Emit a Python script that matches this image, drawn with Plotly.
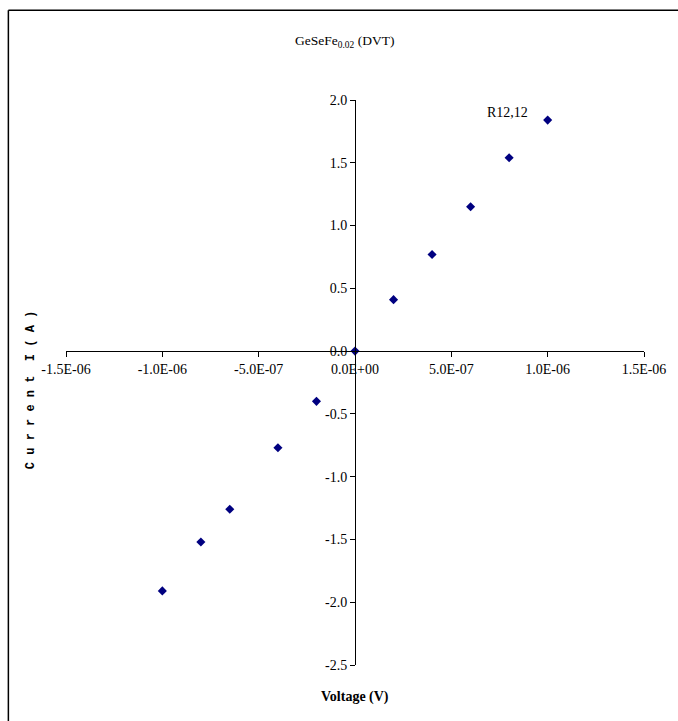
import plotly.graph_objects as go

voltage = [-1.0e-6, -8.0e-7, -6.5e-7, -4.0e-7, -2.0e-7, 0.0, 2.0e-7, 4.0e-7, 6.0e-7, 8.0e-7, 1.0e-6]
current = [-1.91, -1.52, -1.26, -0.77, -0.40, 0.0, 0.41, 0.77, 1.15, 1.54, 1.84]

x_tickvals = [-1.5e-6, -1.0e-6, -5.0e-7, 0.0, 5.0e-7, 1.0e-6, 1.5e-6]
x_ticktext = ["-1.5E-06", "-1.0E-06", "-5.0E-07", "0.0E+00", "5.0E-07", "1.0E-06", "1.5E-06"]
y_tickvals = [-2.5, -2.0, -1.5, -1.0, -0.5, 0.0, 0.5, 1.0, 1.5, 2.0]
y_ticktext = ["-2.5", "-2.0", "-1.5", "-1.0", "-0.5", "0.0", "0.5", "1.0", "1.5", "2.0"]

serif = "Liberation Serif"

fig = go.Figure()
fig.add_trace(go.Scatter(
    x=voltage, y=current, mode="markers",
    marker=dict(symbol="diamond", size=7, color="#000080"),
    showlegend=False, cliponaxis=False,
))

x_range = [-1.5e-6, 1.5e-6]
y_range = [-2.5, 2.0]

fig.update_layout(
    width=678, height=721,
    margin=dict(l=66, r=30, t=100, b=56),
    paper_bgcolor="white", plot_bgcolor="white",
    font=dict(family=serif, size=13, color="black"),
    xaxis=dict(
        range=x_range, tickvals=x_tickvals, ticktext=x_ticktext,
        showgrid=False, zeroline=False, showline=True, linecolor="black", linewidth=1,
        ticks="outside", ticklen=5, tickcolor="black",
        anchor="free", position=(0 - y_range[0]) / (y_range[1] - y_range[0]),
        tickfont=dict(family=serif, size=14),
    ),
    yaxis=dict(
        range=y_range, tickvals=y_tickvals, ticktext=y_ticktext,
        showgrid=False, zeroline=False, showline=True, linecolor="black", linewidth=1,
        ticks="outside", ticklen=5, tickcolor="black",
        anchor="free", position=(0 - x_range[0]) / (x_range[1] - x_range[0]),
        tickfont=dict(family=serif, size=14),
    ),
    shapes=[
        dict(type="line", xref="paper", yref="paper", x0=-0.0997, x1=1.2, y0=1.159, y1=1.159,
             line=dict(color="black", width=1.5)),
        dict(type="line", xref="paper", yref="paper", x0=-0.0997, x1=-0.0997, y0=1.159, y1=-0.2,
             line=dict(color="black", width=1.5)),
    ],
    annotations=[
        dict(text="GeSeFe<sub>0.02</sub> (DVT)", xref="paper", yref="paper", x=0.481, y=1.103,
             xanchor="center", yanchor="middle",
             showarrow=False, font=dict(family=serif, size=13.5)),
        dict(text="<b>Voltage (V)</b>", xref="paper", yref="paper", x=0.5, y=-0.057,
             xanchor="center", yanchor="middle",
             showarrow=False, font=dict(family=serif, size=14)),
        dict(text="<b>C u r r e n t  I ( A )</b>", xref="paper", yref="paper", x=-0.060, y=0.487,
             xanchor="center", yanchor="middle",
             textangle=-90, showarrow=False, font=dict(family="Liberation Mono", size=12)),
        dict(text="R12,12", xref="x", yref="y", x=7.9e-7, y=1.9,
             xanchor="center", yanchor="middle",
             showarrow=False, font=dict(family=serif, size=14)),
    ],
)

fig.write_html("out.html")
